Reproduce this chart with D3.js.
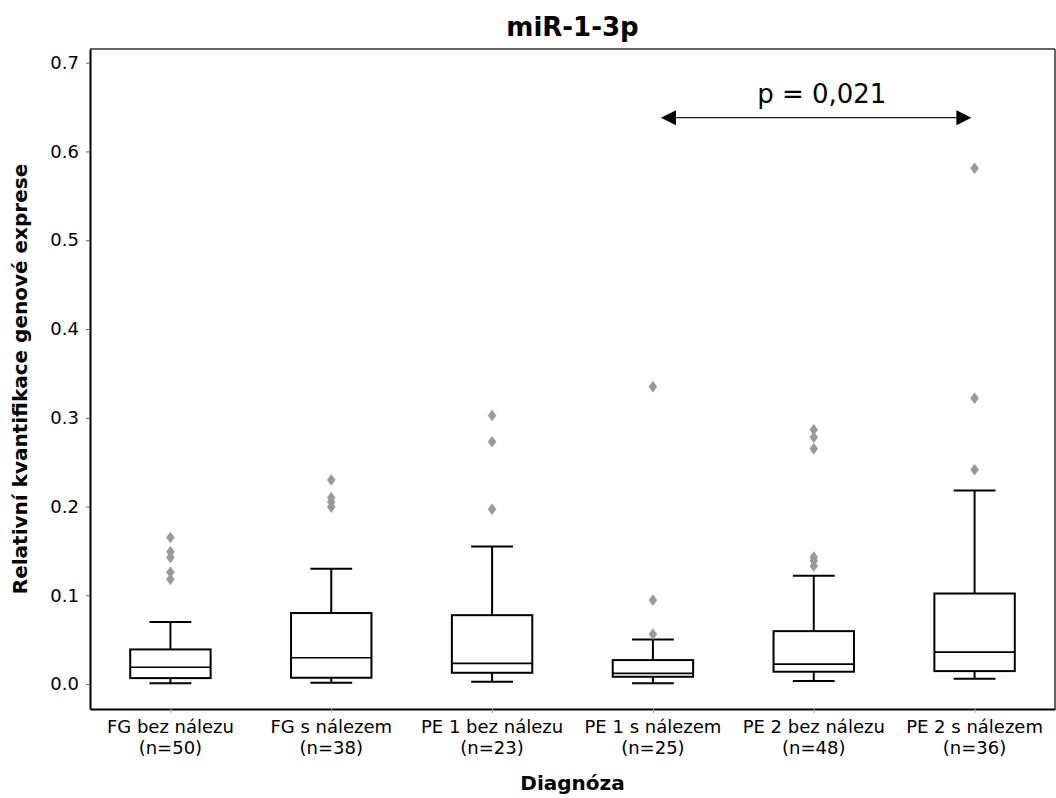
<!DOCTYPE html>
<meta charset="utf-8">
<head>
  <title>miR-1-3p boxplot</title>
</head>
<style>
body { margin: 0; background: #fff; }
text { font-family: "DejaVu Sans", sans-serif; fill: #000; }
.box line, .box rect { stroke: #000; stroke-width: 2; fill: none; }
</style>
<body>
<svg width="1056" height="798"></svg>
<script src="https://cdn.jsdelivr.net/npm/d3@7"></script>
<script>

// groups and their sizes
var categories = ["FG bez nálezu", "FG s nálezem", "PE 1 bez nálezu", "PE 1 s nálezem", "PE 2 bez nálezu", "PE 2 s nálezem"];
var counts = [50, 38, 23, 25, 48, 36];

// box statistics
var whiskLow  = [0.001, 0.0015, 0.0026, 0.0008, 0.0034, 0.006];
var q1        = [0.0067, 0.0071, 0.0127, 0.0082, 0.0139, 0.0146];
var medians   = [0.019, 0.0296, 0.0233, 0.012, 0.0225, 0.036];
var q3        = [0.039, 0.080, 0.0776, 0.027, 0.0596, 0.102];
var whiskHigh = [0.070, 0.130, 0.155, 0.0503, 0.122, 0.218];

var outliers = [
  [0.165, 0.149, 0.1425, 0.126, 0.118],
  [0.230, 0.210, 0.205, 0.1995],
  [0.3026, 0.273, 0.197],
  [0.335, 0.0945, 0.0562],
  [0.2865, 0.278, 0.265, 0.143, 0.139, 0.133],
  [0.581, 0.322, 0.2415]
];

var yTicks = [0, 0.1, 0.2, 0.3, 0.4, 0.5, 0.6, 0.7];

// significance arrow between PE 1 s nálezem and PE 2 s nálezem
var pLabel = "p = 0,021";
var pArrow = {from: 3.05, to: 4.98, y: 0.638, textX: 4.05, textY: 0.655};

var svg = d3.select("svg");
var mLeft = 90, mRight = 1055, mTop = 49, mBottom = 709;

var x = d3.scaleLinear().domain([-0.5, categories.length - 0.5]).range([mLeft, mRight]);
var y = d3.scaleLinear().domain([-0.0281, 0.7154]).range([mBottom, mTop]);
var band = x(1) - x(0);
var boxW = band * 0.5, capW = band * 0.26;

// top / right spines
svg.append("line").attr("x1", mLeft).attr("x2", mRight).attr("y1", mTop).attr("y2", mTop)
    .attr("stroke", "#333").attr("stroke-width", 1.5);
svg.append("line").attr("x1", mRight).attr("x2", mRight).attr("y1", mTop).attr("y2", mBottom)
    .attr("stroke", "#333").attr("stroke-width", 1.5);

// y axis
var yAxis = svg.append("g")
    .attr("transform", "translate(" + mLeft + ",0)")
    .call(d3.axisLeft(y).tickValues(yTicks).tickFormat(d3.format(".1f"))
        .tickSizeInner(4).tickSizeOuter(0).tickPadding(7));
yAxis.select(".domain").attr("stroke", "#000").attr("stroke-width", 2);
yAxis.selectAll(".tick line").attr("stroke", "#666");
yAxis.selectAll(".tick text").style("font-size", "18px").style("font-family", "DejaVu Sans");

// x axis
var xAxis = svg.append("g")
    .attr("transform", "translate(0," + mBottom + ")")
    .call(d3.axisBottom(x).tickValues(d3.range(categories.length))
        .tickSizeInner(4).tickSizeOuter(0).tickFormat(""));
xAxis.select(".domain").attr("stroke", "#000").attr("stroke-width", 2);
xAxis.selectAll(".tick line").attr("stroke", "#aaa");

var labels = svg.append("g").selectAll("text")
    .data(categories)
    .enter().append("text")
    .attr("text-anchor", "middle")
    .attr("x", (d, i) => x(i))
    .attr("y", mBottom + 24)
    .style("font-size", "18px");
labels.append("tspan").attr("x", (d, i) => x(i)).text(d => d);
labels.append("tspan").attr("x", (d, i) => x(i)).attr("dy", 20.5).text((d, i) => "(n=" + counts[i] + ")");

// boxes
var boxes = svg.append("g").selectAll("g.box")
    .data(categories)
    .enter().append("g")
    .attr("class", "box");

boxes.append("line") // lower whisker
    .attr("x1", (d, i) => x(i)).attr("x2", (d, i) => x(i))
    .attr("y1", (d, i) => y(whiskLow[i])).attr("y2", (d, i) => y(q1[i]));
boxes.append("line") // upper whisker
    .attr("x1", (d, i) => x(i)).attr("x2", (d, i) => x(i))
    .attr("y1", (d, i) => y(q3[i])).attr("y2", (d, i) => y(whiskHigh[i]));
boxes.append("line") // lower cap
    .attr("x1", (d, i) => x(i) - capW / 2).attr("x2", (d, i) => x(i) + capW / 2)
    .attr("y1", (d, i) => y(whiskLow[i])).attr("y2", (d, i) => y(whiskLow[i]));
boxes.append("line") // upper cap
    .attr("x1", (d, i) => x(i) - capW / 2).attr("x2", (d, i) => x(i) + capW / 2)
    .attr("y1", (d, i) => y(whiskHigh[i])).attr("y2", (d, i) => y(whiskHigh[i]));
boxes.append("rect")
    .attr("x", (d, i) => x(i) - boxW / 2)
    .attr("width", boxW)
    .attr("y", (d, i) => y(q3[i]))
    .attr("height", (d, i) => y(q1[i]) - y(q3[i]));
boxes.append("line") // median
    .style("stroke-width", 1.6)
    .attr("x1", (d, i) => x(i) - boxW / 2).attr("x2", (d, i) => x(i) + boxW / 2)
    .attr("y1", (d, i) => y(medians[i])).attr("y2", (d, i) => y(medians[i]));

// outliers as thin diamonds
var diamond = "M0,-5.5L4,0L0,5.5L-4,0Z";
var flat = [];
outliers.forEach((arr, i) => arr.forEach(v => flat.push({i: i, v: v})));
svg.append("g").selectAll("path")
    .data(flat)
    .enter().append("path")
    .attr("d", diamond)
    .attr("transform", d => "translate(" + x(d.i) + "," + y(d.v) + ")")
    .attr("fill", "#999")
    .attr("stroke", "#999")
    .attr("stroke-width", 0.5);

// p-value arrow
var ax1 = x(pArrow.from), ax2 = x(pArrow.to), ay = y(pArrow.y);
svg.append("line")
    .attr("x1", ax1 + 12).attr("x2", ax2 - 12).attr("y1", ay).attr("y2", ay)
    .attr("stroke", "#222").attr("stroke-width", 1.3);
svg.append("path")
    .attr("d", "M" + ax1 + "," + ay + "l15,-7.5v15z")
    .attr("fill", "#000");
svg.append("path")
    .attr("d", "M" + ax2 + "," + ay + "l-15,-7.5v15z")
    .attr("fill", "#000");
svg.append("text")
    .attr("x", x(pArrow.textX)).attr("y", y(pArrow.textY))
    .attr("text-anchor", "middle")
    .style("font-size", "26px")
    .text(pLabel);

// titles
svg.append("text")
    .attr("x", (mLeft + mRight) / 2).attr("y", 36)
    .attr("text-anchor", "middle")
    .style("font-size", "26px").style("font-weight", "bold")
    .text("miR-1-3p");
svg.append("text")
    .attr("x", (mLeft + mRight) / 2).attr("y", 790)
    .attr("text-anchor", "middle")
    .style("font-size", "20px").style("font-weight", "bold")
    .text("Diagnóza");
svg.append("text")
    .attr("transform", "translate(27," + (mTop + mBottom) / 2 + ") rotate(-90)")
    .attr("text-anchor", "middle")
    .style("font-size", "20px").style("font-weight", "bold")
    .text("Relativní kvantifikace genové exprese");

</script>
</body>
</html>
